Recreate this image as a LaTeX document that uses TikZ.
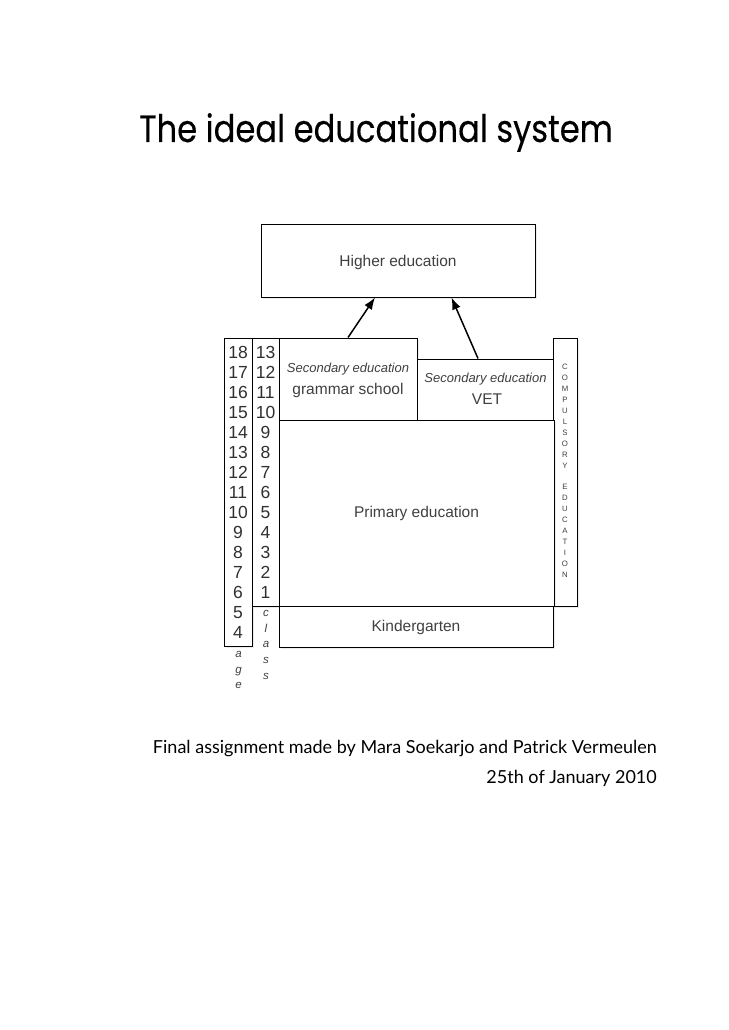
\documentclass[tikz,border=0pt]{standalone}
\usepackage{fontspec}
\setmainfont{Liberation Sans}
\newfontfamily\titlefont{Poppins}[FakeBold=0.3]
\newfontfamily\footfont{Lato}
\usetikzlibrary{arrows.meta,shadows}
\definecolor{labelgray}{HTML}{404040}
\definecolor{digitgray}{HTML}{303030}

\begin{document}
\begin{tikzpicture}[x=1pt,y=-1pt,
    stage/.style={draw,line width=1pt,fill=white,inner sep=0pt,drop shadow={shadow xshift=1.5pt,shadow yshift=-1.5pt,opacity=0.15}},
    stagetext/.style={text=labelgray,font=\fontsize{15.5}{18}\selectfont,inner sep=0pt},
    sectext/.style={text=labelgray,font=\itshape\fontsize{13}{15}\selectfont,inner sep=0pt,anchor=base},
    digit/.style={text=digitgray,font=\fontsize{17.5}{20}\selectfont,inner sep=0pt,anchor=base},
    letter/.style={text=labelgray,font=\itshape\fontsize{11.5}{14}\selectfont,inner sep=0pt,anchor=base},
    capletter/.style={text=labelgray,font=\fontsize{7.8}{9}\selectfont,inner sep=0pt,anchor=base},
    flow/.style={line width=1.5pt,-{Latex[length=12pt,width=9pt]}}
    ]

  \fill[white] (0,0) rectangle (728,1030);
  \useasboundingbox (0,0) rectangle (728,1030);

  \node(title) [anchor=base west,inner sep=0pt,font=\titlefont\fontsize{38}{44}\selectfont] at (139,142) {\scalebox{0.847}[1]{The ideal educational system}};

  \node(higher) [stage,minimum width=274pt,minimum height=73pt] at (398,260.5) {};
  \node(higherName) [stagetext,anchor=base] at (398,266) {Higher education};

  \node(age) [stage,minimum width=28pt,minimum height=308pt] at (238,492) {};
  \node(class) [stage,minimum width=27pt,minimum height=268pt] at (265.5,472) {};

  \node(grammar) [stage,minimum width=138pt,minimum height=82pt] at (348,379) {};
  \node(grammarKind) [sectext] at (348,372.3) {Secondary education};
  \node(grammarName) [stagetext,anchor=base] at (348,394.3) {grammar school};

  \node(vet) [stage,minimum width=137pt,minimum height=61pt] at (485.5,389.5) {};
  \node(vetKind) [sectext] at (485.5,382.3) {Secondary education};
  \node(vetName) [stagetext,anchor=base] at (487,404) {VET};

  \node(compulsory) [stage,minimum width=24pt,minimum height=268pt] at (565,472) {};

  \node(primary) [stage,minimum width=275pt,minimum height=186pt] at (416.5,513) {};
  \node(primaryName) [stagetext,anchor=base] at (416.5,517.7) {Primary education};

  \node(kindergarten) [stage,minimum width=274pt,minimum height=41pt] at (416,626.5) {};
  \node(kindergartenName) [stagetext,anchor=base] at (416,631) {Kindergarten};

  % ages and classes
  \foreach \a [count=\i from 0] in {18,17,...,4}
    \node [digit] at (238,358.5+20*\i) {\a};
  \foreach \c [count=\i from 0] in {13,12,...,1}
    \node [digit] at (265.5,358.5+20*\i) {\c};

  \foreach \l [count=\i from 0] in {a,g,e}
    \node [letter] at (238.5,657.3+15.8*\i) {\l};
  \foreach \l [count=\i from 0] in {c,l,a,s,s}
    \node [letter] at (266,616.7+15.6*\i) {\l};

  \foreach \l [count=\i from 0] in {C,O,M,P,U,L,S,O,R,Y,{},E,D,U,C,A,T,I,O,N}
    \node [capletter] at (565,369.5+10.95*\i) {\l};

  \draw[flow] (grammar.north) -- ([xshift=-23pt]higher.south);
  \draw[flow] ([xshift=-7.5pt]vet.north) -- ([xshift=53.5pt]higher.south);

  \node(credits) [anchor=base east,inner sep=0pt,font=\footfont\fontsize{18}{22}\selectfont] at (657,753.3) {Final assignment made by Mara Soekarjo and Patrick Vermeulen};
  \node(date) [anchor=base east,inner sep=0pt,font=\footfont\fontsize{18}{22}\selectfont] at (657,783.3) {25th of January 2010};

\end{tikzpicture}
\end{document}
